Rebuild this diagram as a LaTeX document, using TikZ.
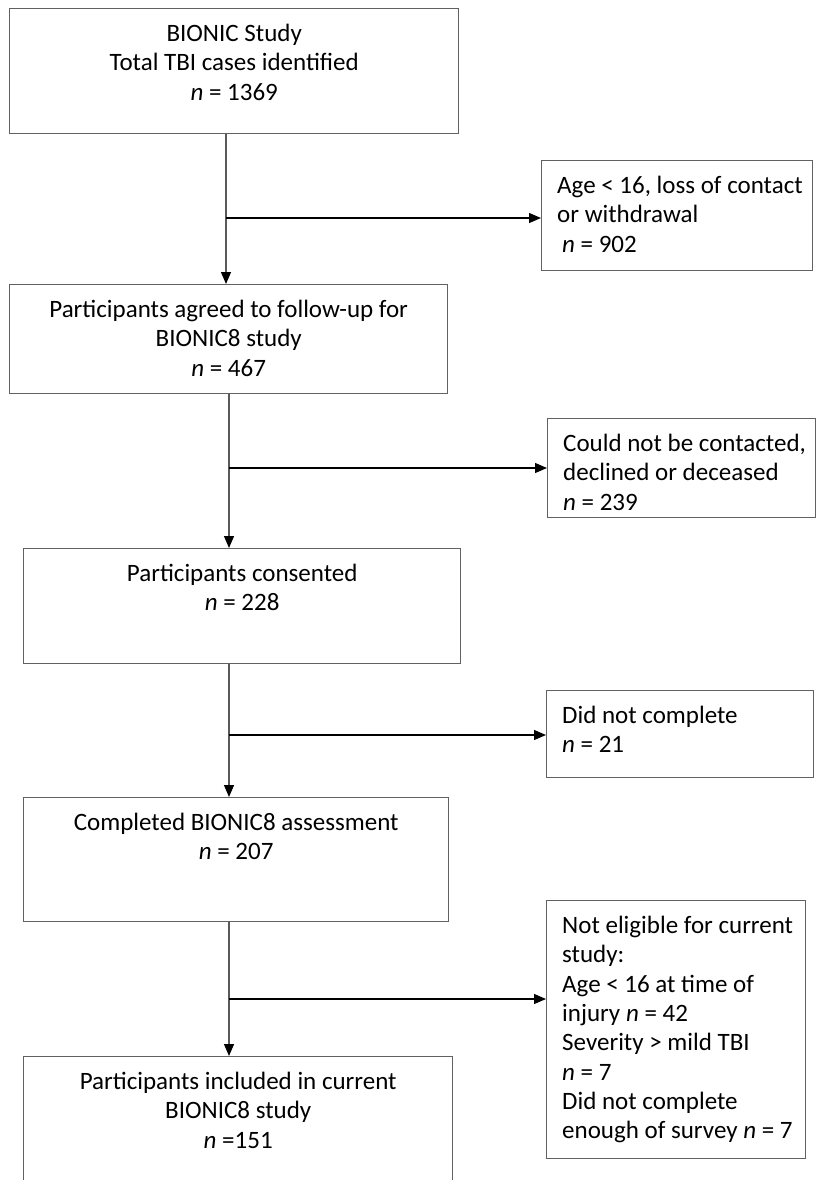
\documentclass[tikz,border=0pt]{standalone}
\usepackage{fontspec}
\setmainfont{Carlito}
\usetikzlibrary{arrows.meta}
\begin{document}
\begin{tikzpicture}[x=1pt,y=-1pt,
  boxshape/.style={draw=black!62, line width=1.4pt, inner sep=0pt, anchor=north west},
  boxtext/.style={font=\fontsize{25}{29.3}\selectfont, inner sep=0pt, anchor=north, align=center},
  sidetext/.style={font=\fontsize{25}{29.3}\selectfont, inner sep=0pt, anchor=north west, align=left},
  flow/.style={draw=black!65, line width=1.3pt, -{Triangle[length=12pt,width=10pt,fill=black,color=black]}},
  flowarrow/.style={draw=black, line width=1.2pt, -{Triangle[length=12pt,width=10pt]}}]
\useasboundingbox (0,0) rectangle (816,1180);
\clip (0,0) rectangle (816,1180);

% main column boxes
\node[boxshape, minimum width=449pt, minimum height=125pt] (b1) at (9,8) {};
\node[boxshape, minimum width=438pt, minimum height=109pt] (b3) at (9,284) {};
\node[boxshape, minimum width=437pt, minimum height=115pt] (b5) at (23,548) {};
\node[boxshape, minimum width=425pt, minimum height=124pt] (b7) at (23,797) {};
\node[boxshape, minimum width=429pt, minimum height=160pt] (b9) at (23,1056) {};

% side boxes
\node[boxshape, minimum width=271pt, minimum height=110pt] (b2) at (541,160) {};
\node[boxshape, minimum width=268pt, minimum height=99pt] (b4) at (547,418) {};
\node[boxshape, minimum width=267pt, minimum height=87pt] (b6) at (546,690) {};
\node[boxshape, minimum width=259pt, minimum height=258pt] (b8) at (546,900) {};

% texts
\node[boxtext] (t1) at ([yshift=-16pt]b1.north) {BIONIC Study\\Total TBI cases identified\\\textit{n} = 1369};
\node[boxtext] (t3) at ([yshift=-16pt]b3.north) {Participants agreed to follow-up for\\BIONIC8 study\\\textit{n} = 467};
\node[boxtext] (t5) at ([yshift=-16pt]b5.north) {Participants consented\\\textit{n} = 228};
\node[boxtext] (t7) at ([yshift=-16pt]b7.north) {Completed BIONIC8 assessment\\\textit{n} = 207};
\node[boxtext] (t9) at ([yshift=-16pt]b9.north) {Participants included in current\\BIONIC8 study\\\textit{n} =151};

\node[sidetext] (t2) at ([xshift=16pt,yshift=-16pt]b2.north west) {Age < 16, loss of contact\\or withdrawal\\\hspace{5pt}\textit{n} = 902};
\node[sidetext] (t4) at ([xshift=16pt,yshift=-16pt]b4.north west) {Could not be contacted,\\declined or deceased\\\textit{n} = 239};
\node[sidetext] (t6) at ([xshift=16pt,yshift=-16pt]b6.north west) {Did not complete\\\textit{n} = 21};
\node[sidetext] (t8) at ([xshift=16pt,yshift=-16pt]b8.north west) {Not eligible for current\\study:\\Age < 16 at time of\\injury \textit{n} = 42\\Severity > mild TBI\\\textit{n} = 7\\Did not complete\\enough of survey \textit{n} = 7};

% junctions
\coordinate (j1) at (226,218);
\coordinate (j2) at (229,468);
\coordinate (j3) at (229,735);
\coordinate (j4) at (229,999);

% connectors
\draw[flow] (b1.south -| j1) -- (b3.north -| j1);
\draw[flow] (b3.south -| j2) -- (b5.north -| j2);
\draw[flow] (b5.south -| j3) -- (b7.north -| j3);
\draw[flow] (b7.south -| j4) -- (b9.north -| j4);

\draw[flowarrow] (j1) -- (b2.west |- j1);
\draw[flowarrow] (j2) -- (b4.west |- j2);
\draw[flowarrow] (j3) -- (b6.west |- j3);
\draw[flowarrow] (j4) -- (b8.west |- j4);
\end{tikzpicture}
\end{document}
